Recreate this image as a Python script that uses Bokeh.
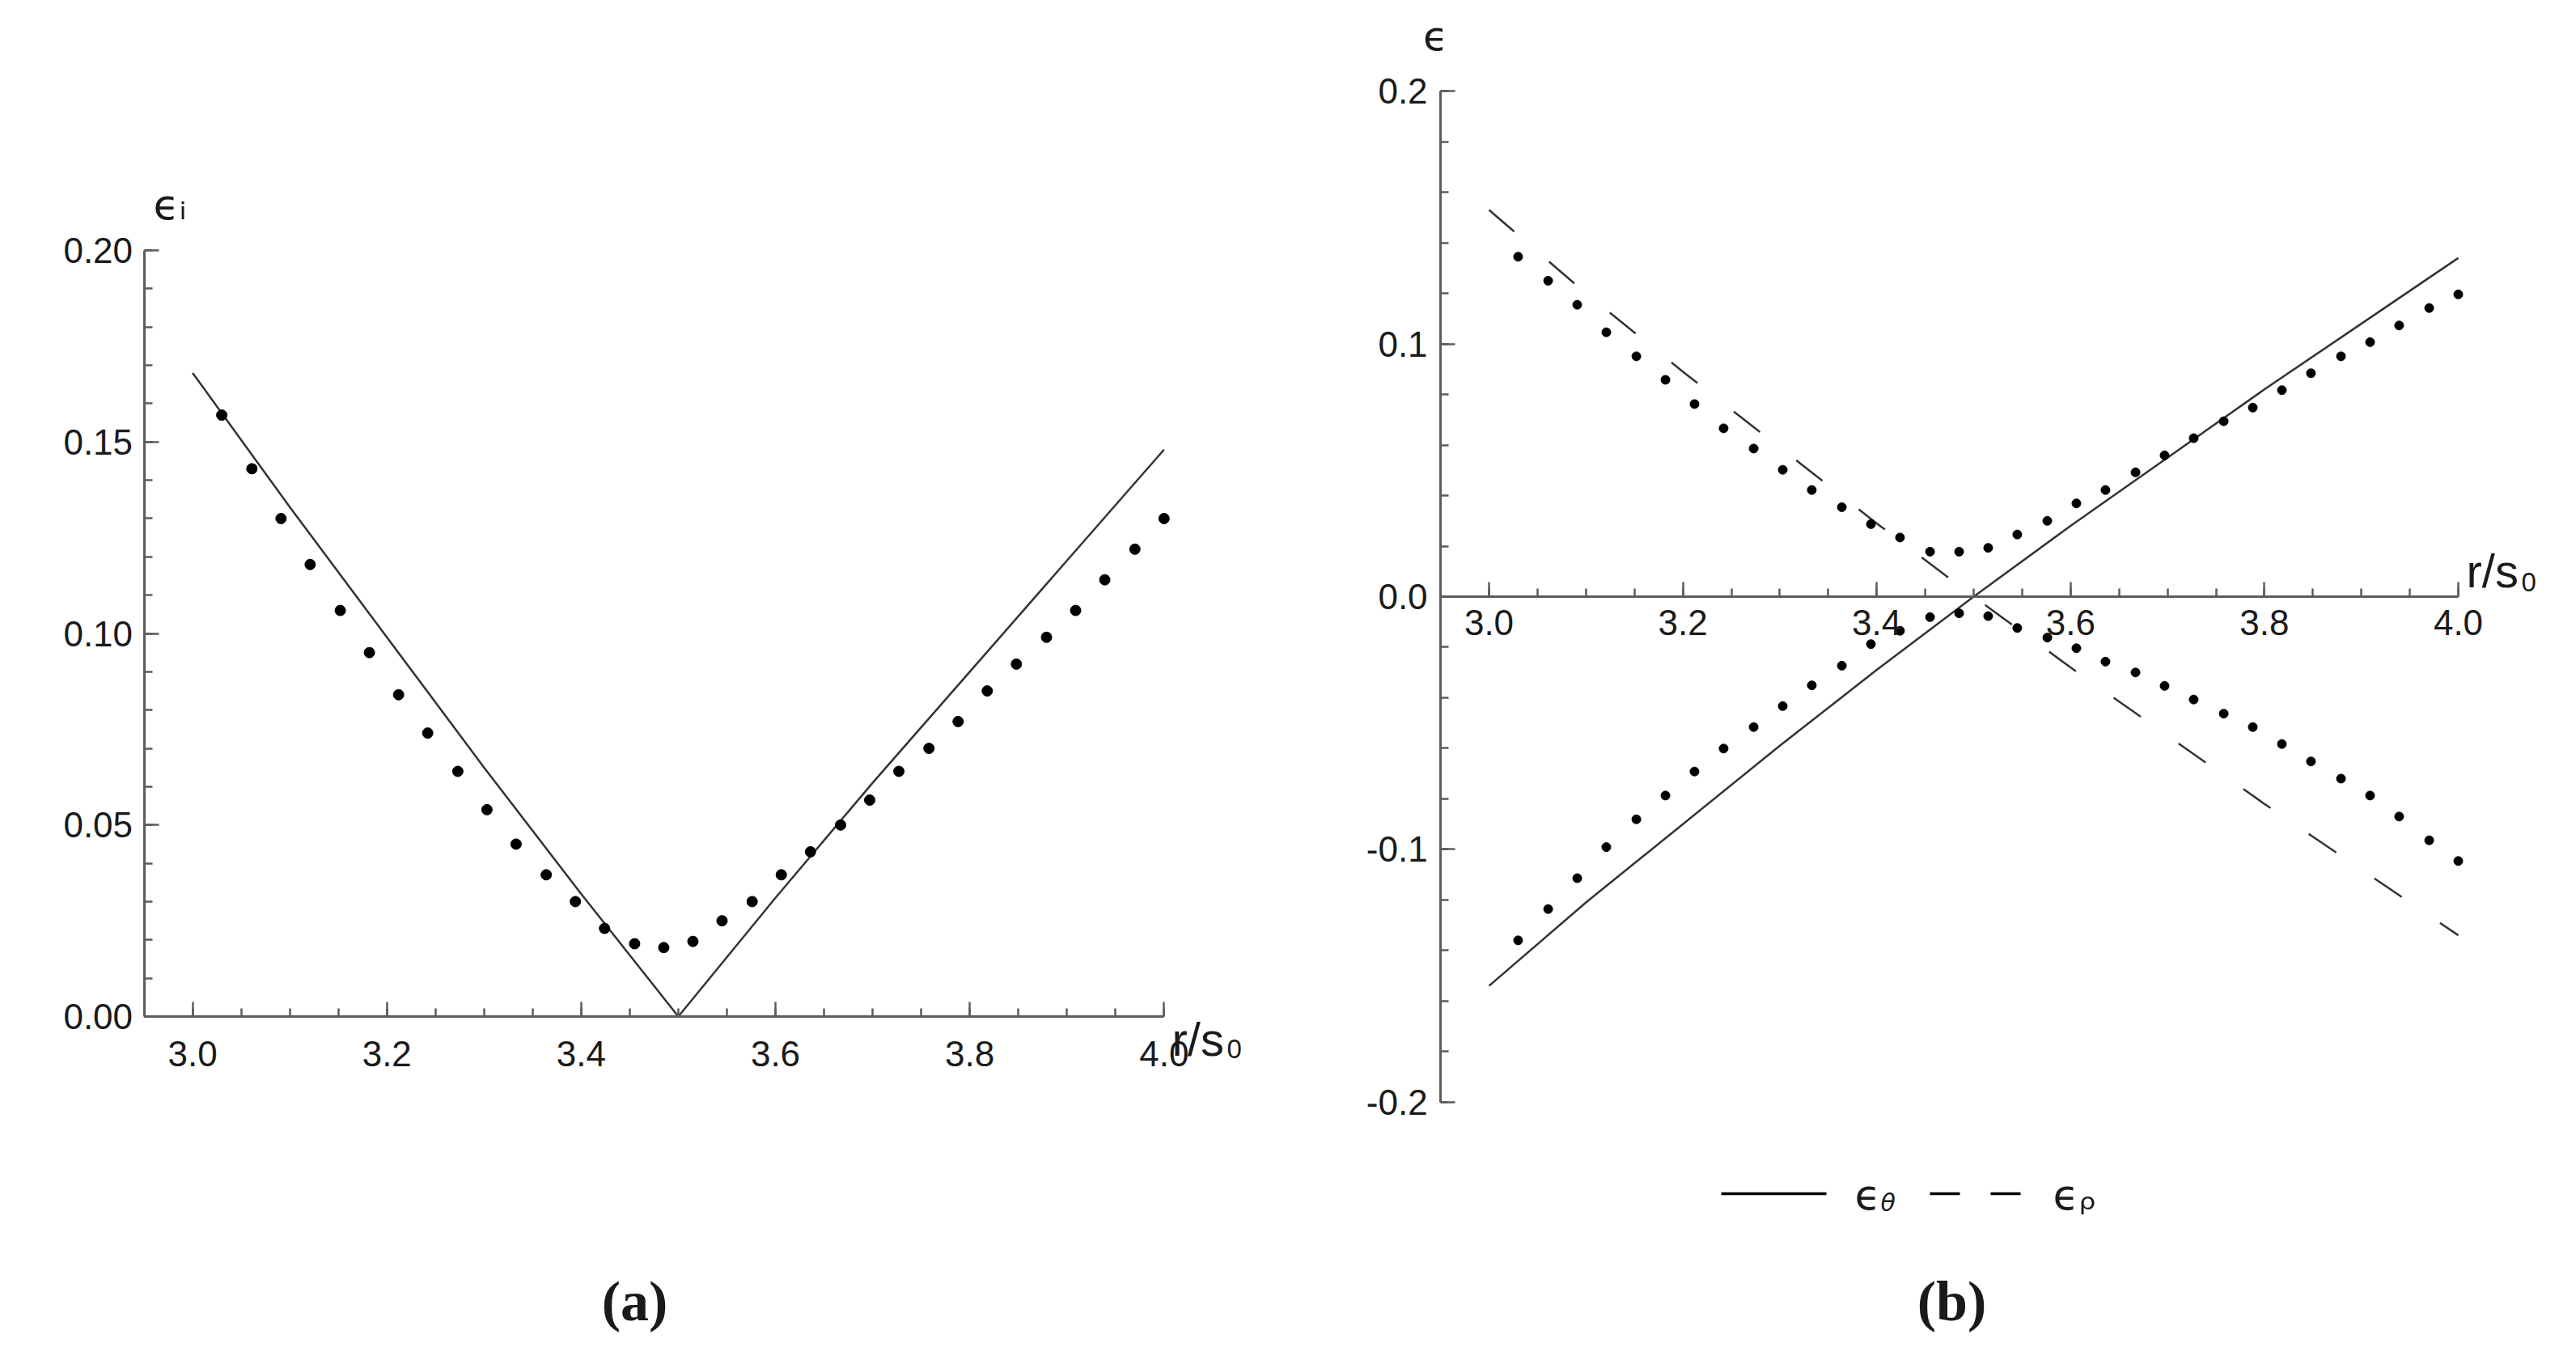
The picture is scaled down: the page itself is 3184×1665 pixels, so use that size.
from bokeh.plotting import figure
from bokeh.layouts import row
from bokeh.models import LinearAxis, FixedTicker, Range1d, Label
from bokeh.embed import file_html
from bokeh.resources import INLINE

# ---------------- data ----------------
r_line = [3.0, 3.1, 3.2, 3.3, 3.4, 3.5, 3.6, 3.7, 3.8, 3.9, 4.0]
eps_i_line = [0.168, 0.133, 0.099, 0.065, 0.032, 0.000, 0.031, 0.061, 0.090, 0.119, 0.148]
eps_theta_line = [-0.154, -0.121, -0.090, -0.059, -0.029, 0.000, 0.028, 0.055, 0.082, 0.108, 0.134]
eps_rho_line = [0.153, 0.120, 0.089, 0.059, 0.029, 0.000, -0.028, -0.055, -0.082, -0.108, -0.134]

r_points = [3.030, 3.061, 3.091, 3.121, 3.152, 3.182, 3.212, 3.242, 3.273, 3.303, 3.333,
            3.364, 3.394, 3.424, 3.455, 3.485, 3.515, 3.545, 3.576, 3.606, 3.636, 3.667,
            3.697, 3.727, 3.758, 3.788, 3.818, 3.848, 3.879, 3.909, 3.939, 3.970, 4.000]
eps_i_points = [0.157, 0.143, 0.130, 0.118, 0.106, 0.095, 0.084, 0.074, 0.064, 0.054, 0.045,
                0.037, 0.030, 0.023, 0.019, 0.018, 0.0196, 0.025, 0.030, 0.037, 0.043, 0.050,
                0.0565, 0.064, 0.070, 0.077, 0.085, 0.092, 0.099, 0.106, 0.114, 0.122, 0.130]
eps_upper_points = [0.1345, 0.1250, 0.1155, 0.1046, 0.0951, 0.0858, 0.0762, 0.0666, 0.0586, 0.0502, 0.0422,
                    0.0354, 0.0287, 0.0234, 0.0178, 0.0178, 0.0193, 0.0246, 0.0300, 0.0369, 0.0422, 0.0492,
                    0.0559, 0.0627, 0.0694, 0.0748, 0.0817, 0.0884, 0.0951, 0.1007, 0.1073, 0.1142, 0.1196]
eps_lower_points = [-0.1360, -0.1236, -0.1114, -0.0991, -0.0881, -0.0787, -0.0692, -0.0601, -0.0516, -0.0433, -0.0351,
                    -0.0273, -0.0188, -0.0135, -0.0081, -0.0066, -0.0077, -0.0124, -0.0162, -0.0204, -0.0257, -0.0300,
                    -0.0353, -0.0407, -0.0463, -0.0516, -0.0583, -0.0652, -0.0720, -0.0787, -0.0870, -0.0964, -0.1046]

x_ticks = [3.0, 3.2, 3.4, 3.6, 3.8, 4.0]
x_tick_labels = ["3.0", "3.2", "3.4", "3.6", "3.8", "4.0"]
a_y_ticks = [0.0, 0.05, 0.1, 0.15, 0.2]
a_y_tick_labels = ["0.00", "0.05", "0.10", "0.15", "0.20"]
b_y_ticks = [-0.2, -0.1, 0.0, 0.1, 0.2]
b_y_tick_labels = ["-0.2", "-0.1", "0.0", "0.1", "0.2"]

x_minor = [round(3.0 + 0.05 * k, 2) for k in range(21)]
a_y_minor = [round(0.01 * k, 2) for k in range(21)]
b_y_minor = [round(-0.2 + 0.02 * k, 2) for k in range(21)]

# ---------------- page geometry (Bokeh page has no body margin) ----------------
TOP = 0
A_LEFT, A_W, A_H = 0, 1600, 1660
B_LEFT, B_W, B_H = 1600, 1580, 1660

AX = "#5c5c5c"
LINE = "#333333"
TXT = "#1a1a1a"


def make_fig(left, w, h, x3, xs, y0, ys):
    xr = Range1d(3.0 - (x3 - left) / xs, 3.0 + (left + w - x3) / xs)
    yr = Range1d((y0 - (TOP + h)) / ys, (y0 - TOP) / ys)
    p = figure(width=w, height=h, x_range=xr, y_range=yr,
               x_axis_type=None, y_axis_type=None,
               toolbar_location=None, output_backend="svg",
               min_border=0, outline_line_color=None,
               background_fill_color="white", border_fill_color="white")
    p.min_border_left = p.min_border_right = 0
    p.min_border_top = p.min_border_bottom = 0

    def fx(px):
        return 3.0 + (px - x3) / xs

    def fy(py):
        return (y0 - py) / ys
    return p, fx, fy


def add_axes(p, y_ticks, y_labels, y_minor, y_bounds, x_standoff, y_standoff):
    common = dict(axis_line_color=AX, axis_line_width=3,
                  major_tick_in=18, major_tick_out=0,
                  minor_tick_in=10, minor_tick_out=0,
                  major_tick_line_color=AX, minor_tick_line_color=AX,
                  major_tick_line_width=2.5, minor_tick_line_width=2.5,
                  major_label_text_font="Liberation Sans",
                  major_label_text_font_size="44px",
                  major_label_text_color=TXT)
    xa = LinearAxis(fixed_location=0, bounds=(2.95, 4.0),
                    ticker=FixedTicker(ticks=x_ticks, minor_ticks=x_minor),
                    major_label_overrides=dict(zip(x_ticks, x_tick_labels)),
                    major_label_standoff=x_standoff, **common)
    p.add_layout(xa, "below")
    ya = LinearAxis(fixed_location=2.95, bounds=y_bounds,
                    ticker=FixedTicker(ticks=y_ticks, minor_ticks=y_minor),
                    major_label_overrides=dict(zip(y_ticks, y_labels)),
                    major_label_standoff=y_standoff, **common)
    p.add_layout(ya, "left")


def text(p, x, y, s, size, align="left", baseline="alphabetic",
         font="Liberation Sans", style="normal", color=TXT):
    p.add_layout(Label(x=x, y=y, text=s, text_font_size=size, text_align=align,
                       text_baseline=baseline, text_font=font,
                       text_font_style=style, text_color=color))


# ---------------- panel (a) ----------------
pa, ax_, ay_ = make_fig(A_LEFT, A_W, A_H, 237.6, 1200.7, 1256.0, 4735.0)
add_axes(pa, a_y_ticks, a_y_tick_labels, a_y_minor, (0.0, 0.2), 30, 14)
pa.line(r_line, eps_i_line, line_color=LINE, line_width=2.5)
pa.scatter(r_points, eps_i_points, marker="circle", size=13,
           fill_color="black", line_color="black")

text(pa, ax_(189), ay_(252), "ϵᵢ", "52px", font="DejaVu Sans")
text(pa, ax_(1448), ay_(1284), "r/s", "58px")
text(pa, ax_(1516), ay_(1296), "0", "33px")

text(pa, ax_(784), ay_(1608), "(a)", "70px", align="center",
     font="Liberation Serif", style="bold")

# ---------------- panel (b) ----------------
pb, bx_, by_ = make_fig(B_LEFT, B_W, B_H, 1840.0, 1198.0, 737.0, 3124.0)
add_axes(pb, b_y_ticks, b_y_tick_labels, b_y_minor, (-0.2, 0.2), 16, 16)
pb.line(r_line, eps_theta_line, line_color=LINE, line_width=2.5)
pb.line(r_line, eps_rho_line, line_color=LINE, line_width=2.5, line_dash="41 57")
pb.scatter(r_points, eps_upper_points, marker="circle", size=11,
           fill_color="black", line_color="black")
pb.scatter(r_points, eps_lower_points, marker="circle", size=11,
           fill_color="black", line_color="black")

text(pb, bx_(1774), by_(44), "ϵ", "50px", align="center", font="DejaVu Sans")
text(pb, bx_(3048), by_(705), "r/s", "58px")
text(pb, bx_(3116), by_(719), "0", "33px")

# legend
pb.line([bx_(2127), bx_(2257)], [by_(1475), by_(1475)], line_color="black", line_width=3.5)
text(pb, bx_(2292), by_(1476), "ϵ", "52px", font="DejaVu Sans")
text(pb, bx_(2324), by_(1486), "θ", "30px", font="DejaVu Sans", style="italic")
pb.line([bx_(2385), bx_(2497)], [by_(1475), by_(1475)], line_color="black", line_width=3.5,
        line_dash="37 38")
text(pb, bx_(2537), by_(1476), "ϵᵨ", "52px", font="DejaVu Sans")

text(pb, bx_(2412), by_(1608), "(b)", "70px", align="center",
     font="Liberation Serif", style="bold")

layout = row(pa, pb)
open("out.html", "w").write(file_html(layout, INLINE))
